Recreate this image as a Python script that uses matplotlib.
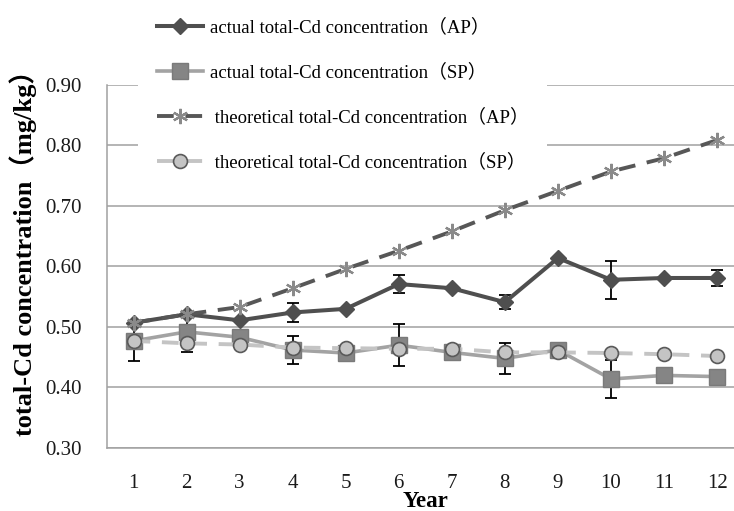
import matplotlib
matplotlib.use("Agg")
import matplotlib.pyplot as plt
import numpy as np

plt.rcParams['font.family'] = ['Liberation Serif', 'Noto Sans CJK SC']

years = np.arange(1, 13)
year_labels = [str(y) for y in years]

actual_ap = [0.507, 0.521, 0.511, 0.524, 0.530, 0.571, 0.564, 0.541, 0.614, 0.578, 0.581, 0.581]
actual_ap_err = [0, 0, 0, 0.015, 0, 0.015, 0, 0.012, 0, 0.031, 0, 0.013]

actual_sp = [0.477, 0.492, 0.483, 0.462, 0.457, 0.470, 0.458, 0.448, 0.462, 0.414, 0.420, 0.418]
actual_sp_err = [0.033, 0.033, 0, 0.023, 0, 0.035, 0, 0.025, 0, 0.031, 0, 0]

theory_ap = [0.507, 0.521, 0.533, 0.564, 0.596, 0.626, 0.658, 0.693, 0.725, 0.757, 0.779, 0.809]
theory_sp = [0.477, 0.473, 0.471, 0.466, 0.465, 0.464, 0.464, 0.458, 0.458, 0.457, 0.455, 0.452]

labels = ["actual total-Cd concentration（AP）",
          "actual total-Cd concentration（SP）",
          " theoretical total-Cd concentration（AP）",
          " theoretical total-Cd concentration（SP）"]

fig = plt.figure(figsize=(7.34, 5.11), dpi=100)
ax = fig.add_axes([0.1458, 0.1233, 0.8673, 0.7104])

grid_col = '#a0a0a0'
ax.set_ylim(0.30, 0.90)
ax.set_xlim(0.5, 12.5)
ax.set_yticks(np.arange(0.30, 0.91, 0.10))
ax.set_yticklabels([f"{v:.2f}" for v in np.arange(0.30, 0.91, 0.10)])
ax.set_xticks(years)
ax.set_xticklabels(year_labels)
ax.yaxis.grid(True, color=grid_col, linewidth=1.1)
ax.set_axisbelow(True)
for side in ('top', 'right'):
    ax.spines[side].set_visible(False)
for side in ('left', 'bottom'):
    ax.spines[side].set_color(grid_col)
    ax.spines[side].set_linewidth(1.1)
ax.tick_params(length=0, labelsize=15, colors='#1a1a1a')
ax.tick_params(axis='y', pad=18)
ax.tick_params(axis='x', pad=19)

# error bars only where a deviation was reported
def draw_err(vals, errs):
    vals = np.asarray(vals)
    errs = np.asarray(errs)
    m = errs > 0
    ax.errorbar(years[m], vals[m], yerr=errs[m], fmt='none', ecolor='black',
                elinewidth=1.3, capsize=4, capthick=1.3, zorder=1)

draw_err(actual_ap, actual_ap_err)
draw_err(actual_sp, actual_sp_err)

h1, = ax.plot(years, actual_ap, color='#4f4f4f', linewidth=2.9, marker='D',
              markersize=8.5, markerfacecolor='#4f4f4f', markeredgecolor='#4f4f4f',
              zorder=3)
h2, = ax.plot(years, actual_sp, color='#a3a3a3', linewidth=2.6, marker='s',
              markersize=12, markerfacecolor='#858585', markeredgecolor='#7a7a7a',
              zorder=4)
h3, = ax.plot(years, theory_ap, color='#575757', linewidth=2.8, linestyle=(0, (4.3, 3.0)),
              marker=(6, 2, 0), markersize=11, markeredgewidth=1.6,
              markeredgecolor='#8a8a8a', zorder=5)
h4, = ax.plot(years, theory_sp, color='#c4c4c4', linewidth=2.8, linestyle=(0, (4.3, 3.0)),
              marker='o', markersize=10, markerfacecolor='#c4c4c4',
              markeredgecolor='#5a5a5a', markeredgewidth=1.2, zorder=6)

ax.set_xlabel("Year", fontsize=16.5, fontweight='bold', labelpad=-1.5)
ax.set_ylabel("total-Cd concentration（mg/kg）", fontsize=19, fontweight='bold')
ax.yaxis.set_label_coords(-0.11, 0.555)

leg = ax.legend([h1, h2, h3, h4], labels, loc='upper left',
                bbox_to_anchor=(138 / 734, 1.0), bbox_transform=fig.transFigure,
                frameon=True, fancybox=False, facecolor='white', edgecolor='none',
                framealpha=1.0, fontsize=13.5, handlelength=2.45, handletextpad=0.37,
                labelspacing=1.44, borderpad=1.0, borderaxespad=0)
leg.set_zorder(10)

fig.savefig("out.png", dpi=100)
